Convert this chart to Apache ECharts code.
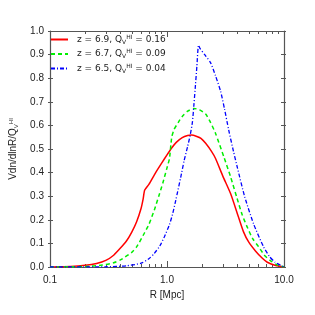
<!DOCTYPE html>
<html><head><meta charset="utf-8">
<script src="https://cdn.jsdelivr.net/npm/echarts@6/dist/echarts.min.js"></script>
<style>html,body{margin:0;padding:0;background:#fff}#c{width:315px;height:315px}</style>
</head><body><div id="c"></div>
<script>
// R [Mpc], Vdn/dlnR/Q
const redData = [[0.1,0],[0.15,0.002],[0.2,0.007],[0.25,0.015],[0.3,0.028],[0.35,0.05],[0.4,0.08],[0.45,0.11],[0.5,0.148],[0.55,0.192],[0.6,0.248],[0.625,0.288],[0.645,0.326],[0.7,0.35],[0.8,0.4],[0.9,0.44],[1.0,0.475],[1.1,0.505],[1.2,0.528],[1.35,0.548],[1.5,0.557],[1.62,0.559],[1.8,0.553],[1.95,0.545],[2.14,0.524],[2.4,0.49],[2.6,0.46],[3.0,0.385],[3.5,0.31],[4.0,0.225],[4.5,0.15],[5.0,0.105],[5.7,0.068],[6.5,0.038],[7.2,0.02],[8.5,0.006],[10,0]];
const greenData = [[0.1,0],[0.2,0.002],[0.28,0.008],[0.35,0.018],[0.4,0.03],[0.5,0.062],[0.55,0.085],[0.64,0.143],[0.7,0.18],[0.78,0.242],[0.85,0.3],[0.92,0.355],[1.0,0.42],[1.05,0.46],[1.08,0.52],[1.1,0.552],[1.15,0.583],[1.25,0.613],[1.35,0.638],[1.5,0.66],[1.7,0.672],[1.9,0.666],[2.14,0.648],[2.36,0.612],[2.6,0.566],[3.06,0.467],[3.49,0.383],[3.97,0.291],[4.4,0.22],[4.83,0.171],[5.4,0.12],[6.06,0.086],[6.8,0.05],[7.6,0.028],[8.7,0.009],[10,0]];
const blueData = [[0.1,0],[0.3,0.001],[0.45,0.005],[0.6,0.016],[0.7,0.035],[0.78,0.058],[0.87,0.09],[0.95,0.128],[1.05,0.18],[1.12,0.227],[1.19,0.284],[1.31,0.38],[1.4,0.45],[1.5,0.51],[1.58,0.56],[1.65,0.615],[1.7,0.69],[1.75,0.77],[1.8,0.85],[1.86,0.94],[1.92,0.925],[2.1,0.9],[2.36,0.865],[2.6,0.81],[2.87,0.745],[3.1,0.67],[3.37,0.58],[3.7,0.49],[4.0,0.42],[4.6,0.3],[5.5,0.182],[6.68,0.086],[7.5,0.045],[8.4,0.02],[10,0]];
const legendNames = ['z = 6.9, Q{sub|V}{sup|HI} = 0.16','z = 6.7, Q{sub|V}{sup|HI} = 0.09','z = 6.5, Q{sub|V}{sup|HI} = 0.04'];
const xMajor = [0.1,1,10];
const xMinor = [0.2,0.3,0.4,0.5,0.6,0.7,0.8,0.9,2,3,4,5,6,7,8,9];
const xLabels = {0.1:'0.1',1:'1.0',10:'10.0'};

const FONT = 'Liberation Sans';
const AX = '#555';
const rich = {
  sub:{fontSize:6,verticalAlign:'bottom',lineHeight:11,color:'#222'},
  sup:{fontSize:6,verticalAlign:'top',lineHeight:11,color:'#222'}
};
const grid = {left:48,top:31,right:31,bottom:48};
const PW = 315-48-31, PH = 315-31-48;
function xFrame(pos, labels){
  return {type:'log',logBase:10,min:0.1,max:10,position:pos,
    axisLine:{show:true,onZero:false,lineStyle:{color:AX,width:1.2}},
    splitLine:{show:false},axisTick:{show:false},
    axisLabel:labels?{show:true,formatter:v=>xLabels[v]!==undefined?xLabels[v]:(+v).toFixed(1),fontFamily:FONT,fontSize:10,color:'#222',margin:8}:{show:false},
    name: labels?'R [Mpc]':'', nameLocation:'middle', nameGap:21,
    nameTextStyle:{fontFamily:FONT,fontSize:10,color:'#222'}};
}
// tick-only axes, placed on the opposite edge so outside ticks point inward
function xTicks(pos, ticks, len){
  return {type:'log',logBase:10,min:0.1,max:10,position:pos,offset:-PH,
    axisLine:{show:false,onZero:false},splitLine:{show:false},axisLabel:{show:false},
    axisTick:{show:true,length:len,customValues:ticks,lineStyle:{color:AX,width:1}}};
}
function yFrame(pos, labels){
  return {type:'value',min:0,max:1.0,interval:0.1,position:pos,
    axisLine:{show:true,onZero:false,lineStyle:{color:AX,width:1.2}},
    splitLine:{show:false},axisTick:{show:false},
    axisLabel:labels?{show:true,formatter:v=>(+v).toFixed(1),fontFamily:FONT,fontSize:10,color:'#222',margin:6}:{show:false},
    name: labels?'Vdn/dlnR/Q{sub|V}{sup|HI}':'', nameLocation:'middle', nameGap:31, nameRotate:90,
    nameTextStyle:{fontFamily:FONT,fontSize:10,color:'#222',rich:rich}};
}
function yTicks(pos){
  return {type:'value',min:0,max:1.0,interval:0.1,position:pos,offset:-PW,
    axisLine:{show:false,onZero:false},splitLine:{show:false},axisLabel:{show:false},
    axisTick:{show:true,length:5,lineStyle:{color:AX,width:1}}};
}
const chart = echarts.init(document.getElementById('c'),null,{renderer:'canvas'});
chart.setOption({
  animation:false,
  backgroundColor:'#fff',
  grid:grid,
  legend:{left:48,top:32,orient:'vertical',itemWidth:17,itemHeight:10,itemGap:3.5,padding:2,
    data:['a','b','c'],
    itemStyle:{opacity:0},
    formatter:function(n){return n==='a'?legendNames[0]:(n==='b'?legendNames[1]:legendNames[2]);},
    textStyle:{fontFamily:'DejaVu Sans',fontSize:9,color:'#222',rich:rich,padding:[0,0,0,4]}},
  xAxis:[xFrame('bottom',true),xFrame('top',false),
         xTicks('top',xMajor,6),xTicks('top',xMinor,3),xTicks('bottom',xMajor,6),xTicks('bottom',xMinor,3)],
  yAxis:[yFrame('left',true),yFrame('right',false),yTicks('right'),yTicks('left')],
  series:[
    {name:'a',type:'line',data:redData,smooth:0.2,showSymbol:false,symbol:'none',lineStyle:{color:'#ff0000',width:1.5},itemStyle:{color:'#ff0000'}},
    {name:'b',type:'line',data:greenData,smooth:0.2,showSymbol:false,symbol:'none',lineStyle:{color:'#00ee00',width:1.5,type:[4,3]},itemStyle:{color:'#00ee00'}},
    {name:'c',type:'line',data:blueData,smooth:0.2,showSymbol:false,symbol:'none',lineStyle:{color:'#0000ff',width:1.3,type:[4,2,1,2]},itemStyle:{color:'#0000ff'}}
  ]
});
</script></body></html>
